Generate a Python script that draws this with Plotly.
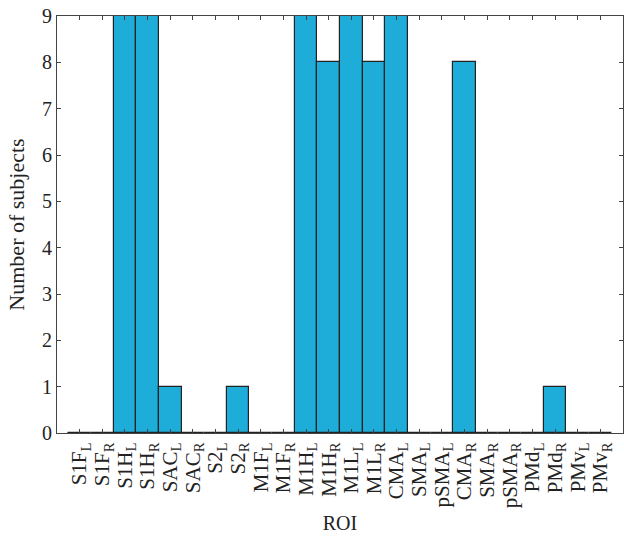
import plotly.graph_objects as go

categories = ["S1F<sub>L</sub>", "S1F<sub>R</sub>", "S1H<sub>L</sub>", "S1H<sub>R</sub>",
              "SAC<sub>L</sub>", "SAC<sub>R</sub>", "S2<sub>L</sub>", "S2<sub>R</sub>",
              "M1F<sub>L</sub>", "M1F<sub>R</sub>", "M1H<sub>L</sub>", "M1H<sub>R</sub>",
              "M1L<sub>L</sub>", "M1L<sub>R</sub>", "CMA<sub>L</sub>", "SMA<sub>L</sub>",
              "pSMA<sub>L</sub>", "CMA<sub>R</sub>", "SMA<sub>R</sub>", "pSMA<sub>R</sub>",
              "PMd<sub>L</sub>", "PMd<sub>R</sub>", "PMv<sub>L</sub>", "PMv<sub>R</sub>"]
subjects = [0, 0, 9, 9, 1, 0, 0, 1, 0, 0, 9, 8, 9, 8, 9, 0, 0, 8, 0, 0, 0, 1, 0, 0]
y_ticks = list(range(0, 10))

positions = list(range(1, len(categories) + 1))

fig = go.Figure(go.Bar(
    x=positions, y=subjects, width=1,
    marker=dict(color="#1eadd9", line=dict(color="#222222", width=1.2)),
))

font_family = "Liberation Serif, DejaVu Serif, serif"
fig.update_layout(
    width=624, height=539,
    margin=dict(l=57, r=1, t=16, b=106, autoexpand=False),
    plot_bgcolor="white", paper_bgcolor="white",
    font=dict(family=font_family, size=20, color="#222222"),
    showlegend=False,
    bargap=0,
)
fig.update_xaxes(
    range=[0, len(categories) + 1],
    tickmode="array", tickvals=positions, ticktext=categories,
    tickangle=-90, ticks="inside", ticklen=4, tickcolor="#444444",
    showline=True, linecolor="#444444", linewidth=1.2, mirror="ticks",
    showgrid=False, zeroline=False,
    tickfont=dict(size=21),
    automargin=False,
    title=dict(text="ROI", font=dict(size=20), standoff=8),
)
fig.update_yaxes(
    range=[0, 9], tickmode="array", tickvals=y_ticks,
    ticks="inside", ticklen=4, tickcolor="#444444",
    showline=True, linecolor="#444444", linewidth=1.2, mirror="ticks",
    showgrid=False, zeroline=False,
    tickfont=dict(size=20),
    automargin=False,
    title=dict(text="Number of subjects", font=dict(size=22), standoff=11),
)

# remove the default 8px page margin so the figure sits at the window's top-left corner
fig.write_html(
    "out.html",
    config={"displayModeBar": False},
    post_script="document.body.style.margin='0';document.body.style.padding='0';",
)
